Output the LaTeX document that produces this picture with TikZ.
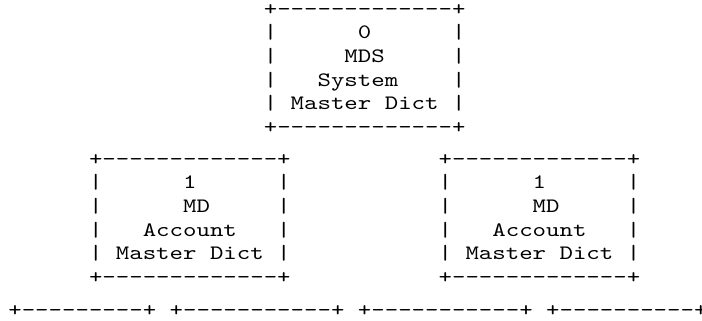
\documentclass[tikz,border=0pt]{standalone}
\usepackage{fontspec}
\setmonofont{lmmono10-regular.otf}[FakeStretch=1.25]

\begin{document}
\begin{tikzpicture}[
			x=0.3361cm, y=-0.59cm,
			every node/.style={font=\fontsize{14.57}{16.8}\selectfont\ttfamily, inner sep=0pt},
			dictbox/.style={align=left, anchor=north west,
				execute at begin node=\strut, execute at end node=\strut},
			leafrow/.style={anchor=base west}
			]
			\useasboundingbox (-0.6,0) rectangle (51.61,13.6);

			% one column = one character cell, one row = one text line
			\node[dictbox] (sysdict) at (19,0.17) {+-------------+\\|~~~~~~0~~~~~~|\\|~~~~~MDS~~~~~|\\|~~~System~~~~|\\|~Master~Dict~|\\+-------------+};

			\node[dictbox] (acctleft) at (6,6.53) {+-------------+\\|~~~~~~1~~~~~~|\\|~~~~~~MD~~~~~|\\|~~~Account~~~|\\|~Master~Dict~|\\+-------------+};
			\node[dictbox] (acctright) at (32,6.53) {+-------------+\\|~~~~~~1~~~~~~|\\|~~~~~~MD~~~~~|\\|~~~Account~~~|\\|~Master~Dict~|\\+-------------+};

			% next level, only the top edges
			\node[leafrow] (leafa) at (0,13.4) {+---------+};
			\node[leafrow] (leafb) at (12,13.4) {+-----------+};
			\node[leafrow] (leafc) at (26,13.4) {+-----------+};
			\node[leafrow] (leafd) at (40,13.4) {+----------+};

		\end{tikzpicture}
\end{document}
